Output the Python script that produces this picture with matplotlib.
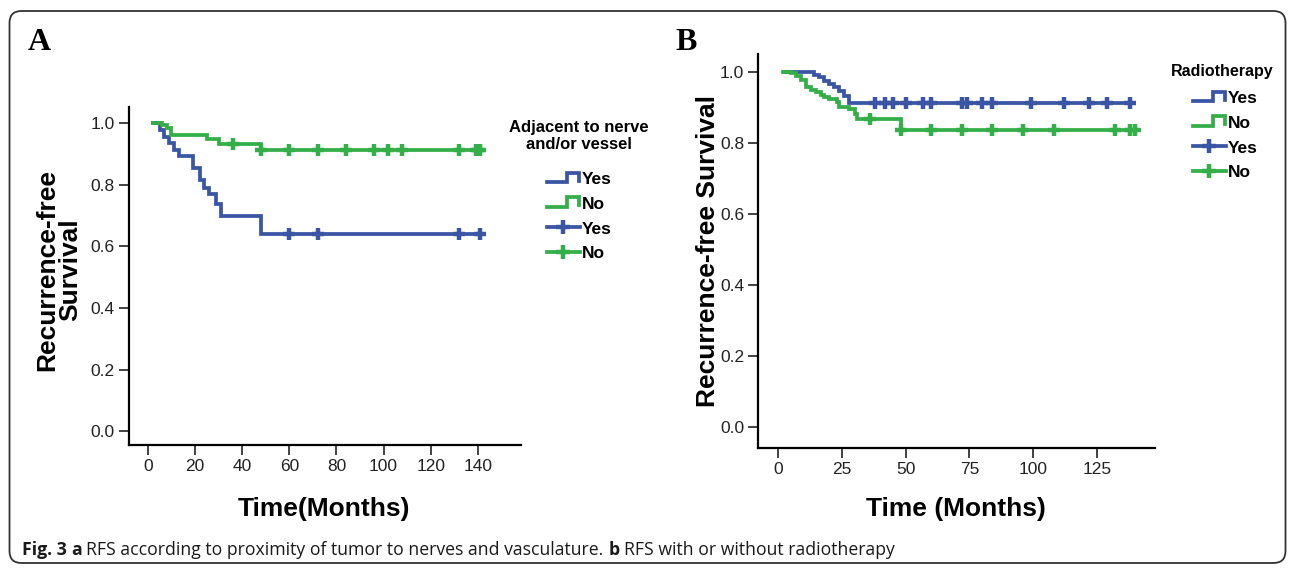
import matplotlib
matplotlib.use("Agg")
import matplotlib.pyplot as plt
import numpy as np
from matplotlib.lines import Line2D
from matplotlib.legend_handler import HandlerBase
from matplotlib.patches import FancyBboxPatch
from matplotlib.transforms import IdentityTransform

plt.rcParams['font.family'] = ['Liberation Sans', 'DejaVu Sans']

# ---- data (time in months, survival) ----
# panel A: adjacent to nerve and/or vessel
a_yes_t = [2, 5, 7, 9, 11, 13, 19, 22, 24, 26, 29, 31, 48, 141]
a_yes_s = [1.0, 0.978, 0.956, 0.934, 0.912, 0.893, 0.853, 0.815, 0.789, 0.771, 0.737, 0.699, 0.640, 0.640]
a_yes_cens = [60, 72, 132, 141]

a_no_t = [2, 6, 8, 10, 25, 30, 48, 141]
a_no_s = [1.0, 0.994, 0.985, 0.961, 0.947, 0.933, 0.912, 0.912]
a_no_cens = [36, 48, 60, 72, 84, 96, 102, 108, 132, 139, 140, 141]

# panel B: radiotherapy
b_yes_t = [3, 14, 16, 18, 20, 22, 24, 26, 28, 138]
b_yes_s = [1.0, 0.992, 0.984, 0.975, 0.966, 0.956, 0.945, 0.933, 0.912, 0.912]
b_yes_cens = [38, 42, 45, 50, 57, 60, 72, 74, 80, 84, 99, 112, 122, 129, 138]

b_no_t = [2, 5, 7, 9, 11, 13, 15, 17, 18, 20, 23, 24, 28, 30, 31, 48, 140]
b_no_s = [1.0, 0.996, 0.988, 0.976, 0.958, 0.949, 0.943, 0.936, 0.929, 0.924, 0.915, 0.902,
          0.896, 0.882, 0.868, 0.835, 0.835]
b_no_cens = [36, 48, 60, 72, 84, 96, 108, 132, 138, 140]

a_xticks = [0, 20, 40, 60, 80, 100, 120, 140]
b_xticks = [0, 25, 50, 75, 100, 125]
y_ticks = [0.0, 0.2, 0.4, 0.6, 0.8, 1.0]
group_labels = ['Yes', 'No']

BLUE = '#3b55a5'
GREEN = '#33ae48'
LW = 2.7


class StepIcon(HandlerBase):
    # the little step glyph SPSS uses for the survival function in its legend
    def create_artists(self, legend, orig_handle, xdescent, ydescent, width, height, fontsize, trans):
        xs = np.array([0.0, 0.6, 0.6, 0.97, 0.97]) * width - xdescent
        ys = np.array([0.15, 0.15, 0.95, 0.95, 0.3]) * height - ydescent
        ln = Line2D(xs, ys, color=orig_handle.get_color(), lw=orig_handle.get_linewidth(),
                    solid_joinstyle='miter')
        ln.set_transform(trans)
        return [ln]


def km_curve(ax, t, s, cens, color):
    ax.step(t, s, where='post', color=color, lw=LW, solid_joinstyle='miter')
    t = np.asarray(t)
    s = np.asarray(s)
    idx = np.searchsorted(t, cens, side='right') - 1
    ax.plot(cens, s[idx], ls='none', marker='+', ms=9, mew=3.2, color=color)


def style_axes(ax, xlim, ylim, xticks):
    ax.set_xlim(*xlim)
    ax.set_ylim(*ylim)
    ax.set_xticks(xticks)
    ax.set_yticks(y_ticks)
    ax.set_yticklabels([f'{v:.1f}' for v in y_ticks])
    for side in ['top', 'right']:
        ax.spines[side].set_visible(False)
    for side in ['left', 'bottom']:
        ax.spines[side].set_linewidth(1.6)
    ax.tick_params(direction='out', length=7, width=1.2, labelsize=12.5, pad=3, colors='#222222')


fig = plt.figure(figsize=(12.95, 5.69), dpi=100)
W, H = 1295, 569

axA = fig.add_axes([128.6 / W, 124 / H, (521 - 128.6) / W, (462 - 124) / H])
km_curve(axA, a_yes_t, a_yes_s, a_yes_cens, BLUE)
km_curve(axA, a_no_t, a_no_s, a_no_cens, GREEN)
style_axes(axA, (-8.2, 158.3), (-0.045, 1.052), a_xticks)

axB = fig.add_axes([758 / W, 121 / H, (1155 - 758) / W, (515 - 121) / H])
km_curve(axB, b_yes_t, b_yes_s, b_yes_cens, BLUE)
km_curve(axB, b_no_t, b_no_s, b_no_cens, GREEN)
style_axes(axB, (-7.83, 147.7), (-0.058, 1.050), b_xticks)

# axis titles
lab = dict(fontsize=19, fontweight='bold')
axA.set_xlabel('Time(Months)', **lab)
axA.xaxis.set_label_coords(324 / W, 1 - 509 / H, transform=fig.transFigure)
axA.xaxis.label.set_va('center')
axA.set_ylabel('Recurrence-free\nSurvival', linespacing=0.95, **lab)
axA.yaxis.label.set(va='center', ha='center', rotation_mode='default')
axA.yaxis.set_label_coords(58.5 / W, 1 - 270 / H, transform=fig.transFigure)

axB.set_xlabel('Time (Months)', **lab)
axB.xaxis.set_label_coords(956 / W, 1 - 509 / H, transform=fig.transFigure)
axB.xaxis.label.set_va('center')
axB.set_ylabel('Recurrence-free Survival', **lab)
axB.yaxis.label.set(va='center', ha='center', rotation_mode='default')
axB.yaxis.set_label_coords(708 / W, 1 - 251 / H, transform=fig.transFigure)

# legends, drawn SPSS-style: step glyph for curves, cross for censored
def add_legend(ax, x_px, top_px):
    handles = [Line2D([], [], color=BLUE, lw=LW), Line2D([], [], color=GREEN, lw=LW),
               Line2D([], [], color=BLUE, lw=LW, marker='+', ms=10, mew=3.2),
               Line2D([], [], color=GREEN, lw=LW, marker='+', ms=10, mew=3.2)]
    labels = group_labels + group_labels
    ax.legend(handles, labels, loc='upper left', bbox_to_anchor=(x_px / W, 1 - top_px / H),
              bbox_transform=fig.transFigure, frameon=False, borderpad=0, borderaxespad=0,
              handlelength=1.9, handletextpad=0.1, labelspacing=0.55,
              prop={'size': 12.5, 'weight': 'bold'},
              handler_map={handles[0]: StepIcon(), handles[1]: StepIcon()})


add_legend(axA, 547, 172)
add_legend(axB, 1193, 91)
fig.text(578.5 / W, 1 - 120 / H, 'Adjacent to nerve\nand/or vessel', ha='center', va='top',
         fontsize=12, fontweight='bold', linespacing=1.15)
fig.text(1222 / W, 1 - 64 / H, 'Radiotherapy', ha='center', va='top', fontsize=11.5,
         fontweight='bold')

# panel letters
fig.text(28 / W, 1 - 50 / H, 'A', family='Liberation Serif', fontweight='bold', fontsize=23,
         va='baseline')
fig.text(675 / W, 1 - 50 / H, 'B', family='Liberation Serif', fontweight='bold', fontsize=23,
         va='baseline')

# rounded frame around the figure
fig.patches.append(FancyBboxPatch((9.5, 6), 1276, 552, boxstyle='round,pad=0,rounding_size=12',
                                  transform=IdentityTransform(), fill=False, lw=1.3,
                                  edgecolor='#333333', figure=fig))

# caption, built piece by piece so the bold bits sit inline
renderer = fig.canvas.get_renderer()
cap = [('Fig. 3', 'bold'), ('a', 'bold'),
       ('RFS according to proximity of tumor to nerves and vasculature.', 'normal'),
       ('b', 'bold'), ('RFS with or without radiotherapy', 'normal')]
x = 22.0
gap = 4.5
for txt, wt in cap:
    t = fig.text(x / W, 14 / H, txt, family=['Open Sans', 'DejaVu Sans'], fontweight=wt,
                 fontsize=12.7, va='baseline', color='#1a1a1a')
    x += t.get_window_extent(renderer).width + gap

fig.savefig('out.png', dpi=100)
